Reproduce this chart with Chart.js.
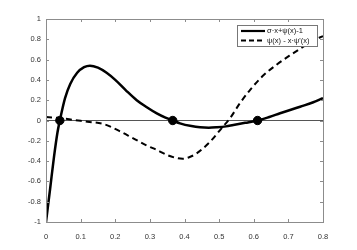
<!DOCTYPE html>
<html>
<head>
<meta charset="utf-8">
<script src="https://cdn.jsdelivr.net/npm/chart.js@4.4.1/dist/chart.umd.min.js"></script>
<style>
  html, body { margin: 0; padding: 0; background: #fff; }
  #wrap { width: 357px; height: 250px; }
</style>
</head>
<body>
<div id="wrap"><canvas id="c" width="357" height="250"></canvas></div>
<script>
// curve 1: sigma*x + psi(x) - 1
const xA = [0, 0.012, 0.023, 0.033, 0.04, 0.055, 0.07, 0.09, 0.11, 0.127, 0.15, 0.175, 0.2, 0.23, 0.262, 0.29, 0.32, 0.345, 0.366, 0.387, 0.42, 0.445, 0.47, 0.493, 0.52, 0.541, 0.575, 0.611, 0.645, 0.676, 0.705, 0.734, 0.77, 0.8];
const yA = [-1, -0.67, -0.36, -0.12, 0, 0.22, 0.36, 0.47, 0.525, 0.54, 0.52, 0.47, 0.40, 0.30, 0.20, 0.133, 0.07, 0.028, 0, -0.028, -0.055, -0.067, -0.071, -0.067, -0.058, -0.044, -0.023, 0, 0.035, 0.071, 0.103, 0.136, 0.177, 0.22];

// curve 2: psi(x) - x*psi'(x)
const xB = [0, 0.05, 0.08, 0.12, 0.166, 0.21, 0.252, 0.29, 0.32, 0.35, 0.377, 0.395, 0.415, 0.435, 0.474, 0.507, 0.531, 0.56, 0.589, 0.628, 0.666, 0.705, 0.743, 0.772, 0.8];
const yB = [0.035, 0.02, 0.005, -0.012, -0.035, -0.10, -0.176, -0.245, -0.29, -0.34, -0.37, -0.377, -0.36, -0.324, -0.209, -0.077, 0.02, 0.17, 0.30, 0.445, 0.55, 0.643, 0.727, 0.79, 0.83];

// roots marked with dots
const rootX = [0.04, 0.366, 0.611];

const labelA = 'σ·x+ψ(x)-1';
const labelB = 'ψ(x) - x·ψ\'(x)';

const xTicks = [0, 0.1, 0.2, 0.3, 0.4, 0.5, 0.6, 0.7, 0.8];
const yTicks = [-1, -0.8, -0.6, -0.4, -0.2, 0, 0.2, 0.4, 0.6, 0.8, 1];

const toPts = (xs, ys) => xs.map((x, i) => ({ x: x, y: ys[i] }));

// legend box drawn over the curves, ticks + frame last
const legendPlugin = {
    id: 'legendPlugin',
    afterDatasetsDraw(chart) {
        const c = chart.ctx;
        const lx = 237, ly = 25, lw = 80, lh = 21;
        c.save();
        c.fillStyle = '#fff';
        c.fillRect(lx, ly, lw, lh);
        c.strokeStyle = '#777';
        c.lineWidth = 1;
        c.strokeRect(lx + 0.5, ly + 0.5, lw, lh);
        c.strokeStyle = '#000';
        c.lineWidth = 2.2;
        c.beginPath();
        c.moveTo(241, 31); c.lineTo(265, 31);
        c.stroke();
        c.setLineDash([5, 3]);
        c.lineWidth = 1.8;
        c.beginPath();
        c.moveTo(241, 40.5); c.lineTo(265, 40.5);
        c.stroke();
        c.setLineDash([]);
        c.fillStyle = '#111';
        c.font = '7.5px "Liberation Sans", Arial, sans-serif';
        c.textBaseline = 'middle';
        c.fillText(labelA, 267, 31);
        c.fillText(labelB, 267, 40.5);
        c.restore();
    },
    afterDraw(chart) {
        const c = chart.ctx;
        const a = chart.chartArea;
        const sx = chart.scales.x;
        const sy = chart.scales.y;
        c.save();
        c.strokeStyle = '#8c8c8c';
        c.lineWidth = 1;
        c.beginPath();
        xTicks.forEach(v => {
            const p = Math.round(sx.getPixelForValue(v)) + 0.5;
            c.moveTo(p, a.bottom); c.lineTo(p, a.bottom - 3);
            c.moveTo(p, a.top); c.lineTo(p, a.top + 3);
        });
        yTicks.forEach(v => {
            const p = Math.round(sy.getPixelForValue(v)) + 0.5;
            c.moveTo(a.left, p); c.lineTo(a.left + 3, p);
            c.moveTo(a.right, p); c.lineTo(a.right - 3, p);
        });
        c.stroke();
        c.strokeRect(a.left + 0.5, a.top + 0.5, a.right - a.left, a.bottom - a.top);
        c.restore();
    }
};

const ctx = document.getElementById('c').getContext('2d');
const chart = new Chart(ctx, {
    type: 'scatter',
    data: {
        datasets: [{
            label: labelA,
            data: toPts(xA, yA),
            showLine: true,
            borderColor: '#000',
            borderWidth: 2.5,
            pointRadius: 0,
            cubicInterpolationMode: 'monotone'
        }, {
            label: labelB,
            data: toPts(xB, yB),
            showLine: true,
            borderColor: '#000',
            borderWidth: 2,
            borderDash: [6, 4],
            pointRadius: 0,
            cubicInterpolationMode: 'monotone'
        }, {
            label: 'roots',
            data: rootX.map(x => ({ x: x, y: 0 })),
            showLine: false,
            pointRadius: 4.2,
            backgroundColor: '#000',
            borderColor: '#000'
        }]
    },
    options: {
        responsive: false,
        animation: false,
        layout: {
            padding: { top: 19, right: 34, left: 0, bottom: 0 }
        },
        plugins: {
            legend: { display: false },
            tooltip: { enabled: false }
        },
        scales: {
            x: {
                type: 'linear',
                min: 0,
                max: 0.8,
                afterBuildTicks: (s) => { s.ticks = xTicks.map(v => ({ value: v })); },
                afterFit: (s) => { s.height = 28; },
                grid: { display: false },
                border: { display: false },
                ticks: {
                    color: '#333',
                    padding: 2,
                    font: { size: 7.5, family: '"Liberation Sans", Arial, sans-serif' },
                    callback: (v) => String(v)
                }
            },
            y: {
                min: -1,
                max: 1,
                afterBuildTicks: (s) => { s.ticks = yTicks.map(v => ({ value: v })); },
                afterFit: (s) => { s.width = 46; },
                grid: {
                    drawTicks: false,
                    color: (context) => context.tick.value == 0 ? '#555' : 'rgba(0,0,0,0)',
                    lineWidth: 1
                },
                border: { display: false },
                ticks: {
                    color: '#333',
                    padding: 5,
                    font: { size: 7.5, family: '"Liberation Sans", Arial, sans-serif' },
                    callback: (v) => String(Math.round(v * 10) / 10)
                }
            }
        }
    },
    plugins: [legendPlugin]
});
</script>
</body>
</html>
